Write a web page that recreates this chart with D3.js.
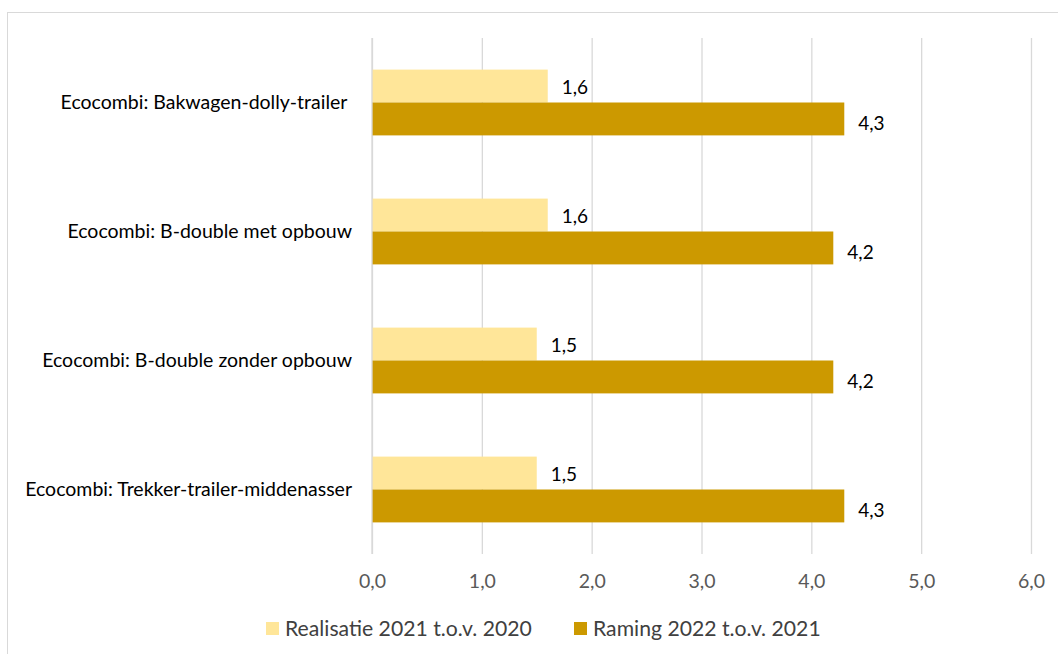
<!DOCTYPE html>
<html>
<head>
<meta charset="utf-8">
<script src="https://cdn.jsdelivr.net/npm/d3@7"></script>
<style>
  html, body { margin: 0; padding: 0; background: #fff; }
  svg { display: block; font-family: Lato, "Open Sans", sans-serif; }
  text { white-space: pre; }
</style>
</head>
<body>
<svg id="chart" width="1058" height="654"></svg>
<script>
// Categories, top to bottom
const categories = [
  "Ecocombi: Bakwagen-dolly-trailer ",
  "Ecocombi: B-double met opbouw",
  "Ecocombi: B-double zonder opbouw",
  "Ecocombi: Trekker-trailer-middenasser"
];
const seriesNames = ["Realisatie 2021 t.o.v. 2020", "Raming 2022 t.o.v. 2021"];
const realisatie = [1.6, 1.6, 1.5, 1.5];
const raming = [4.3, 4.2, 4.2, 4.3];
const xTicks = [0, 1, 2, 3, 4, 5, 6];
const colors = ["#FFE699", "#CC9900"];

const svg = d3.select("#chart");
const W = 1058, H = 654;

// Outer chart frame
svg.append("rect")
  .attr("x", 7.5).attr("y", 12.5)
  .attr("width", W + 10).attr("height", H + 10)
  .attr("fill", "#fff").attr("stroke", "#d9d9d9").attr("stroke-width", 1);

const plot = { left: 372, right: 1031, top: 38, bottom: 554 };

const x = d3.scaleLinear().domain([0, 6]).range([plot.left, plot.right]);
const y = d3.scaleBand().domain(categories).range([plot.top, plot.bottom]).paddingInner(0.49).paddingOuter(0.245);
const sub = d3.scaleBand().domain([0, 1]).range([0, y.bandwidth()]);

const fmt = v => d3.format(".1f")(v).replace(".", ",");

// Vertical gridlines and tick labels
const xAxis = d3.axisBottom(x).tickValues(xTicks).tickSize(plot.bottom - plot.top).tickFormat(fmt).tickPadding(20);
const gx = svg.append("g").attr("transform", `translate(0,${plot.top})`).call(xAxis);
gx.select(".domain").remove();
gx.selectAll(".tick line").attr("stroke", "#d9d9d9").attr("stroke-width", 1.3);
gx.selectAll(".tick text").attr("fill", "#595959").attr("font-size", 19.5)
  .attr("font-family", "Lato, 'Open Sans', sans-serif");

// Bars
const data = categories.map((c, i) => ({ c, vals: [realisatie[i], raming[i]] }));
const groups = svg.append("g").selectAll("g").data(data).join("g")
  .attr("transform", d => `translate(0,${y(d.c)})`);

groups.selectAll("rect").data(d => d.vals.map((v, k) => ({ v, k }))).join("rect")
  .attr("x", x(0))
  .attr("y", d => sub(d.k))
  .attr("width", d => x(d.v) - x(0))
  .attr("height", sub.bandwidth())
  .attr("fill", d => colors[d.k]);

groups.selectAll("text.val").data(d => d.vals.map((v, k) => ({ v, k }))).join("text")
  .attr("class", "val")
  .attr("x", d => x(d.v) + 14)
  .attr("y", d => sub(d.k) + sub.bandwidth() / 2 + (d.k === 0 ? 1 : 4))
  .attr("dy", "0.35em")
  .attr("font-size", 19)
  .attr("fill", "#000")
  .text(d => fmt(d.v));

// Category labels
svg.append("g").selectAll("text").data(categories).join("text")
  .attr("x", 352)
  .attr("y", d => y(d) + y.bandwidth() / 2)
  .attr("dy", "0.35em")
  .attr("text-anchor", "end")
  .attr("font-size", 19.5)
  .attr("fill", "#000")
  .text(d => d);

// Zero axis line
svg.append("line")
  .attr("x1", x(0)).attr("x2", x(0))
  .attr("y1", plot.top).attr("y2", plot.bottom)
  .attr("stroke", "#d9d9d9").attr("stroke-width", 1.3);

// Legend
const legendX = [266, 574];
const lg = svg.append("g").selectAll("g").data(seriesNames).join("g")
  .attr("transform", (d, i) => `translate(${legendX[i]},622)`);
lg.append("rect").attr("width", 13).attr("height", 13).attr("fill", (d, i) => colors[i]);
lg.append("text").attr("x", 19).attr("y", 6.5).attr("dy", "0.35em")
  .attr("font-size", 21.2).attr("fill", "#404040").text(d => d);
</script>
</body>
</html>
